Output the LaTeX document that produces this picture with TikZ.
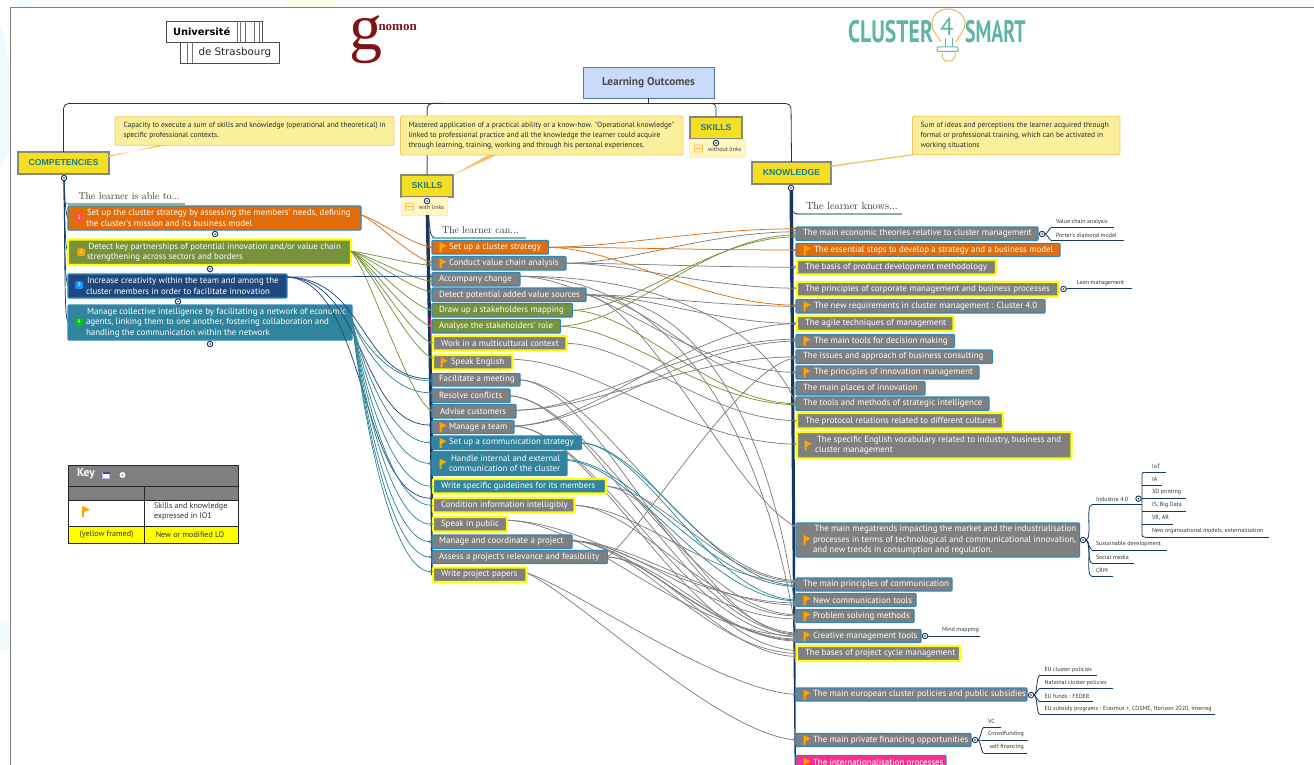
\documentclass[tikz,border=0pt]{standalone}
\usepackage{fontspec}
\usepackage{graphicx}
\usetikzlibrary{arrows.meta,calc}
\pgfdeclarelayer{bg}
\pgfsetlayers{bg,main}
\newfontfamily\ptf{PT Sans}
\newfontfamily\lsf{Liberation Sans}
\newfontfamily\lsr{Liberation Serif}
\newfontfamily\uds{DejaVu Sans}
\definecolor{gbox}{HTML}{7F7F7F}
\definecolor{bbrd}{HTML}{2E88BE}
\definecolor{yel}{HTML}{FFFF00}
\definecolor{oran}{HTML}{E36C0A}
\definecolor{ogrn}{HTML}{76923C}
\definecolor{navy}{HTML}{1F497D}
\definecolor{teal2}{HTML}{31849B}
\definecolor{trunk}{HTML}{17375E}
\definecolor{pinkb}{HTML}{FF2D8A}
\definecolor{flagc}{HTML}{FFA500}
\definecolor{headf}{HTML}{F5DF22}
\definecolor{headb}{HTML}{8C8878}
\definecolor{headt}{HTML}{1A7A8A}
\definecolor{callf}{HTML}{FAF09B}
\definecolor{callb}{HTML}{F5C35F}
\definecolor{notef}{HTML}{FFF6C0}
\definecolor{under}{HTML}{7FB5B0}
\definecolor{logot}{HTML}{5FB5A3}
\definecolor{logoy}{HTML}{E8B95A}
\definecolor{gnom}{HTML}{7E1416}
\definecolor{rootf}{HTML}{C9DAFB}
\definecolor{rootb}{HTML}{5577AA}
\tikzset{
 plain/.style={inner sep=0pt,outer sep=0pt},
 boxs/.style={plain,rectangle,rounded corners=0.8pt,draw=bbrd,line width=1.1pt,fill=gbox},
 ybord/.style={draw=yel,line width=2.2pt,rounded corners=1pt},
 txt/.style={plain,anchor=west,align=left,text=white,font=\ptf\fontsize{8.9}{10.4}\selectfont},
 head/.style={plain,rectangle,fill=headf,draw=headb,line width=2.2pt,text=headt,font=\lsf\bfseries\fontsize{8.7}{10}\selectfont},
 call/.style={plain,rectangle,rounded corners=1.5pt,fill=callf,draw=callb,line width=.8pt},
 calt/.style={plain,anchor=west,align=left,text=black!85,font=\ptf\fontsize{7.5}{9.8}\selectfont},
 note/.style={plain,rectangle,fill=notef,draw=notef!80!callb,line width=.5pt},
 ring/.style={plain,circle,minimum size=5.5pt,draw=trunk,line width=.9pt,fill=white},
 markb/.style={plain,rectangle,rounded corners=1pt,minimum size=7.5pt,text=white,font=\ptf\fontsize{5.5}{6}\selectfont},
 lk/.style={line width=.75pt,-{Stealth[length=3pt,width=3pt]}},
 lg/.style={lk,color=gbox},
 lo/.style={lk,color=oran},
 lv/.style={lk,color=ogrn},
 ln/.style={lk,color=navy},
 lt/.style={lk,color=teal2},
 sub/.style={plain,anchor=west,text=black!80,font=\ptf\fontsize{6}{7}\selectfont},
 subl/.style={line width=.8pt,color=trunk},
 serif/.style={plain,anchor=west,text=black!80,font=\rmfamily\fontsize{9.9}{12}\selectfont},
 keyt/.style={plain,text=black!80,align=left,font=\ptf\fontsize{8.1}{10.4}\selectfont},
}
\newcommand{\bx}[8]{% name x1 y1 x2 y2 style pad text
 \pgfmathsetmacro\cxx{(#2+#4)/2}\pgfmathsetmacro\cyy{(#3+#5)/2}%
 \pgfmathsetmacro\ww{#4-#2}\pgfmathsetmacro\hh{#5-#3}%
 \node[boxs,#6,minimum width=\ww pt,minimum height=\hh pt] (#1) at (\cxx,\cyy) {};
 \node[txt] (#1t) at ([xshift=#7 pt]#1.west) {#8};}
\newcommand{\flg}[1]{% flag near the west side of node #1
 \fill[flagc] ([xshift=7.5pt,yshift=5pt]#1.west) -- ++(7pt,-3.5pt) -- ++(-5pt,-2.8pt) -- ++(0,-3.8pt) -- ++(-2pt,0) -- cycle;}
% generic link: style, src, src offset, dst, dst offset, c1x, c1y, c2x, c2y (fractions)
\newcommand{\lnx}[9]{\draw[#1] let \p1=([yshift={-1pt*(#3)}]#2.east), \p2=([yshift={-1pt*(#5)}]#4.west) in (\p1) .. controls ({\x1+#6*(\x2-\x1)},{\y1+#7*(\y2-\y1)}) and ({\x1+#8*(\x2-\x1)},{\y1+#9*(\y2-\y1)}) .. (\p2);}
\newcommand{\lnk}[5]{\lnx{#1}{#2}{#3}{#4}{#5}{.3}{.03}{.6}{.97}}
\newcommand{\lnc}[5]{\lnx{#1}{#2}{#3}{#4}{#5}{.1}{.3}{.45}{1}}
\newcommand{\lnv}[5]{\lnx{#1}{#2}{#3}{#4}{#5}{.2}{.1}{.7}{.9}}
\newcommand{\lns}[5]{\lnx{#1}{#2}{#3}{#4}{#5}{.55}{.02}{.5}{1}}
\newcommand{\lnl}[5]{\lnx{#1}{#2}{#3}{#4}{#5}{.6}{0}{.9}{.5}}
\newcommand{\lnm}[5]{\lnx{#1}{#2}{#3}{#4}{#5}{.3}{.05}{.7}{.85}}
\newcommand{\lnr}[5]{\lnx{#1}{#2}{#3}{#4}{#5}{.2}{.15}{.7}{.95}}
\newcommand{\sn}[6]{% name text-x text-y text line-x1 line-x2 (line 5.8 under text)
 \node[sub] (#1) at (#2,#3) {#4};
 \coordinate (#1a) at (#5,#3+5.8); \coordinate (#1b) at (#6,#3+5.8);
 \draw[subl] (#1a) -- (#1b);}
\begin{document}
\begin{tikzpicture}[x=1pt,y=-1pt]
\useasboundingbox (0,0) rectangle (1314,765);
\clip (0,0) rectangle (1314,765);
% faint background outside frame
\fill[cyan!6] (0,25) .. controls (6,40) and (10,60) .. (10,90) -- (10,150) -- (0,170) -- cycle;
\fill[cyan!5] (18,0) rectangle (32,7);
\fill[yellow!9] (285,0) rectangle (338,7);
\fill[cyan!5] (0,620) rectangle (10,650);
\draw[gbox,line width=1.2pt] (10.5,765) -- (10.5,7.5) -- (1314,7.5);

% --- logos
\node[plain,draw=black!70,line width=.5pt,minimum width=96pt,minimum height=21pt] (ulogo1) at (214.5,31.5) {};
\node[plain,anchor=west,text=black,font=\uds\bfseries\fontsize{9.9}{10}\selectfont] (ulogo1t) at (173,31.5) {Université};
\node[plain,draw=black!70,line width=.5pt,minimum width=99pt,minimum height=21pt] (ulogo2) at (230,52.5) {};
\node[plain,anchor=west,text=black!85,font=\uds\fontsize{10.3}{11}\selectfont] (ulogo2t) at (198.5,52.5) {de Strasbourg};
\foreach \xx in {237,240.5,245,254,259} \draw[black!55,line width=.5pt] (\xx,21) -- (\xx,42);
\foreach \xx in {187,192} \draw[black!55,line width=.5pt] (\xx,42) -- (\xx,63);
\node[plain,anchor=center,text=gnom,font=\lsr\fontsize{66}{66}\selectfont] (glogo) at (366,39.5) {g};
\node[plain,anchor=west,text=gnom,font=\lsr\bfseries\fontsize{13}{14}\selectfont] (glogo2) at (378.5,28) {nomon};
\node[plain,anchor=west,text=logot,font=\ptf\bfseries\fontsize{31}{31}\selectfont] (clogo) at (848,32) {\scalebox{.7}[1]{CLUSTER}};
\node[plain,anchor=west,text=logot,font=\ptf\bfseries\fontsize{31}{31}\selectfont] (slogo) at (965,32) {\scalebox{.64}[1]{SMART}};
\draw[logoy,line width=1pt] (941,42) .. controls (936,34) and (932,30) .. (932,24) .. controls (932,14) and (940,9) .. (948,9) .. controls (956,9) and (965,14) .. (965,24) .. controls (965,30) and (960,34) .. (956,42);
\draw[logoy,line width=1pt] (942,53) -- (942,57) -- (945,61) -- (952,61) -- (955,57) -- (955,53);
\draw[logot,line width=1pt,rounded corners=1pt] (937,47) rectangle (958,51.5);
\draw[logot,line width=.9pt] (945,38) -- (945,47) (952,38) -- (952,47);
\node[plain,text=logot,font=\ptf\fontsize{25}{25}\selectfont] (flogo) at (947,27) {4};

% --- heads
\node[plain,rectangle,fill=rootf,draw=rootb,line width=1pt,minimum width=131pt,minimum height=31pt,text=black!70,font=\ptf\bfseries\fontsize{11.3}{13}\selectfont] (root) at (648.5,83) {Learning Outcomes};
\node[head,minimum width=91pt,minimum height=22pt] (hc) at (63.5,163) {\raisebox{-.8pt}{COMPETENCIES}};
\node[head,minimum width=52pt,minimum height=22pt] (hs) at (427,186) {SKILLS};
\node[head,minimum width=52pt,minimum height=22pt] (hw) at (716,128) {SKILLS};
\node[head,minimum width=79pt,minimum height=22pt] (hk) at (791.5,173) {KNOWLEDGE};
\coordinate (busl) at (648.5,103.5);
\draw[trunk,line width=.7pt] (root.south) -- (busl);
\draw[trunk!65!gray,line width=1pt,rounded corners=5pt] (hs.north) -- (427,103.5) -- (445,103.5);
\draw[trunk,line width=.8pt,rounded corners=5pt] (hc.north) -- (63.5,103.5) -- (791,103.5) -- (hk.north);
\draw[trunk,line width=.7pt,rounded corners=4pt] (660,103.5) -- (716,103.5) -- (hw.north);

% --- callouts
\fill[callb] (109,155.5) -- (172,144.5) -- (162,144.5) -- (109,157) -- cycle;
\fill[callb] (453,175) -- (497,155) -- (488,155) -- cycle;
\fill[callb] (831,165.5) -- (920,153) -- (915,155) -- (831,167) -- cycle;
\node[call,minimum width=279pt,minimum height=28.5pt] (c1) at (254.5,131) {};
\node[calt] (c1t) at (123.5,130.5) {Capacity to execute a sum of skills and knowledge (operational and theoretical) in\\specific professional contexts.};
\node[call,minimum width=282.5pt,minimum height=39pt] (c2) at (541.7,135.5) {};
\node[calt] (c2t) at (408.5,135.5) {Mastered application of a practical ability or a know-how. "Operational knowledge"\\linked to professional practice and all the knowledge the learner could acquire\\through learning, training, working and through his personal experiences.};
\node[call,minimum width=207.5pt,minimum height=38.5pt] (c3) at (1016.2,135.5) {};
\node[calt] (c3t) at (920.5,135.5) {Sum of ideas and perceptions the learner acquired through\\formal or professional training, which can be activated in\\working situations};

% --- notes
\node[note,minimum width=46pt,minimum height=18pt] (n1) at (424,206) {};
\node[plain,text=black!75,font=\ptf\fontsize{6}{7}\selectfont,anchor=west] (n1t) at (419,207) {with links};
\node[plain,draw=flagc!70,line width=.8pt,rounded corners=1pt,minimum width=8pt,minimum height=7pt,fill=notef] (n1i) at (409.5,206.5) {};
\draw[flagc!70,line width=.7pt] (n1i.west) -- (n1i.east);
\node[note,minimum width=56pt,minimum height=18pt] (n2) at (717,148) {};
\node[plain,text=black!75,font=\ptf\fontsize{6}{7}\selectfont,anchor=west] (n2t) at (708,149) {without links};
\node[plain,draw=flagc!70,line width=.8pt,rounded corners=1pt,minimum width=8pt,minimum height=7pt,fill=notef] (n2i) at (698.5,148.5) {};
\draw[flagc!70,line width=.7pt] (n2i.west) -- (n2i.east);

% --- trunks
\fill[trunk] (425.7,215) -- (429.2,215) -- (433,430) -- (432.5,575) -- (431.2,575) -- (430,430) -- cycle;
\draw[pinkb,line width=.9pt] (430.6,318) -- (431.4,352);
\begin{pgfonlayer}{bg}
\fill[trunk] (789.5,190) -- (793,190) -- (795,500) -- (795.8,765) -- (794.6,765) -- (792,500) -- cycle;
\end{pgfonlayer}
\coordinate (cr) at (64,180);
\foreach \yy in {218,252,285,322} \draw[trunk,line width=.7pt] (cr) .. controls (65,{\yy-25}) and (65,{\yy-4}) .. (68,\yy);
\draw[trunk,line width=.7pt,rounded corners=3pt] (428,215) -- (431,236) -- (436,238);

% --- labels with underline
\node[serif] (lc) at (78.5,196) {The learner is able to...};
\draw[under,line width=1.2pt] (68,204) -- (185,204);
\draw[gray,line width=.6pt] (64,183) to[out=270,in=180,looseness=1] (69,204);
\node[serif] (ls) at (442,230) {The learner can...};
\draw[under,line width=1.2pt] (432,238) -- (526,238);
\node[serif] (lk) at (806,206) {\fontsize{10.3}{12}\selectfont The learner knows...};
\draw[under,line width=1.2pt] (796,214) -- (902,214);
\draw[trunk,line width=.7pt] (791,190) to[out=270,in=180,looseness=.8] (797,214);

% --- competencies
\bx{a}{68}{206}{361}{230}{fill=oran}{18}{\hspace*{1pt}Set up the cluster strategy by assessing the members' needs, defining\\the cluster's mission and its business model}
\bx{b}{68}{239.5}{351}{265}{fill=ogrn,ybord}{19}{\hspace*{1.5pt}Detect key partnerships of potential innovation and/or value chain\\strengthening across sectors and borders}
\bx{c}{68}{274}{287}{298}{fill=navy}{18}{\hspace*{1pt}Increase creativity within the team and among the\\cluster members in order to facilitate innovation}
\bx{d}{68}{305}{352}{340}{fill=teal2}{18}{\hspace*{1pt}Manage collective intelligence by facilitating a network of economic\\agents, linking them to one another, fostering collaboration and\\handling the communication within the network}
\node[markb,fill=red!70!white] (m1) at (79,218) {1};
\node[markb,fill=flagc] (m2) at (81,252) {2};
\node[markb,fill=blue!45!cyan!90!white] (m3) at (79,285) {3};
\node[markb,fill=green!75!black!90!cyan] (m4) at (79,322) {4};

% --- skills
\bx{s1}{432}{240.5}{548.5}{254}{fill=oran}{17}{Set up a cluster strategy}
\bx{s2}{432}{256.5}{566}{270}{}{17}{Conduct value chain analysis}
\bx{s3}{432}{272.5}{520}{286}{}{7}{Accompany change}
\bx{s4}{432}{288}{586}{301.5}{}{7}{Detect potential added value sources}
\bx{s5}{432}{303.5}{572.5}{317}{fill=ogrn}{7}{Draw up a stakeholders mapping}
\bx{s6}{432}{319.5}{560.5}{333}{fill=ogrn}{7}{Analyse the stakeholders' role}
\bx{s7}{433}{336}{566.5}{350.5}{ybord}{8}{Work in a multicultural context}
\bx{s8}{433}{355}{512.5}{369.5}{ybord}{18}{Speak English}
\bx{s9}{432}{373.5}{520}{386}{}{7}{Facilitate a meeting}
\bx{s10}{432}{389}{510}{402.5}{}{7}{Resolve conflicts}
\bx{s11}{432}{404.5}{516}{418}{}{8}{Advise customers}
\bx{s12}{432}{420.5}{514}{433.5}{}{17}{Manage a team}
\bx{s13}{432}{436}{581.5}{449.5}{fill=teal2}{17}{Set up a communication strategy}
\bx{s14}{432}{451.5}{567}{475.5}{fill=teal2}{17}{\hspace*{2pt}Handle internal and external\\communication of the cluster}
\bx{s15}{433}{479}{606}{493.5}{fill=teal2,ybord}{8}{Write specific guidelines  for its members}
\bx{s16}{433}{498}{574.5}{512.5}{ybord}{8}{Condition information intelligibly}
\bx{s17}{433}{517}{507}{531.5}{ybord}{8}{Speak in public}
\bx{s18}{432}{535}{572}{548.5}{}{7}{Manage and coordinate a project}
\bx{s19}{432}{550.5}{607.5}{563.5}{}{7}{Assess a project's relevance and feasibility}
\bx{s20}{433}{567.5}{526.5}{582}{ybord}{8}{Write project papers}
\foreach \n in {s1,s2,s8,s12,s13,s14} {\flg{\n}}

% --- knowledge
\bx{k1}{796}{227}{1038}{240.5}{}{7}{The main economic theories relative to cluster management}
\bx{k2}{796}{243.5}{1060}{256.5}{fill=oran}{18}{The essential steps to develop a strategy and a business model}
\bx{k3}{797}{260}{996}{274.5}{ybord}{8}{The basis of product development methodology}
\bx{k4}{797}{282}{1058.5}{296.5}{ybord}{8}{The principles of corporate management and business processes}
\bx{k5}{796}{299.5}{1045}{313}{}{18}{The new requirements in cluster management : Cluster 4.0}
\bx{k6}{797}{316}{953.5}{331}{ybord}{8}{The agile techniques of management}
\bx{k7}{796}{334.5}{954.5}{347.5}{}{18}{The main tools for decision making}
\bx{k8}{796}{350}{992.5}{363.5}{}{7}{The issues and approach of business consulting}
\bx{k9}{796}{366}{979}{379}{}{18}{The principles of innovation management}
\bx{k10}{796}{381.5}{925}{395}{}{7}{The main places of innovation}
\bx{k11}{796}{397}{989}{410.5}{}{7}{The tools and methods of strategic intelligence}
\bx{k12}{797}{413}{1003}{428.5}{ybord}{8}{The protocol relations related to different cultures}
\bx{k13}{797}{432}{1071.5}{458.5}{ybord}{18}{\hspace*{2pt}The specific English vocabulary related to industry, business and\\cluster management}
\bx{k14}{796}{523}{1079.5}{557}{}{17}{\hspace*{1.5pt}The main megatrends impacting the market and the industrialisation\\processes in terms of technological and communicational innovation,\\and new trends in consumption and regulation.}
\bx{k15}{796}{578}{952}{591}{}{7}{The main principles of communication}
\bx{k16}{796}{593.5}{916}{606.5}{}{17}{New communication tools}
\bx{k17}{796}{609.5}{914}{622.5}{}{17}{Problem solving methods}
\bx{k18}{796}{629.5}{921}{642.5}{}{17}{Creative management tools}
\bx{k19}{797}{646}{960}{661}{ybord}{8}{The bases of project cycle management}
\bx{k20}{796}{688}{1027}{701}{}{17}{The main european cluster policies and public subsidies}
\bx{k21}{796}{733.5}{971}{746.5}{}{17}{The main private financing opportunities}
\bx{k22}{796}{755.5}{946}{770}{fill=pinkb}{17}{The internationalisation processes}
\foreach \n in {k2,k5,k7,k9,k13,k14,k16,k17,k18,k20,k21,k22} {\flg{\n}}

% --- competency -> skill links
\lnv{lo}{a}{-3}{s1}{0}
\lnv{lo}{a}{-3}{s2}{-1}
\lnv{lv}{b}{-1}{s2}{2}
\lnv{lv}{b}{-1}{s3}{2}
\lnv{lv}{b}{-1}{s4}{-3}
\lnv{lv}{b}{-1}{s5}{0}
\lnv{lv}{b}{-1}{s6}{0}
\lnv{lv}{b}{-1}{s7}{0}
\lnv{lv}{b}{-1}{s8}{-4}
\lnv{lv}{b}{-1}{s11}{0}
\lnv{ln}{c}{-9}{s3}{-3}
\lns{ln}{c}{-9}{s9}{-1}
\lns{ln}{c}{-9}{s12}{-2}
\lns{ln}{c}{-9}{s16}{-7}
\lnc{lt}{d}{-3}{s9}{1}
\lnc{lt}{d}{-3}{s10}{-3}
\lnc{lt}{d}{-3}{s13}{0}
\lnc{lt}{d}{-3}{s14}{0}
\lnc{lt}{d}{-3}{s15}{0}
\lnc{lt}{d}{-3}{s16}{0}
\lnc{lt}{d}{-3}{s17}{0}
\lnc{lt}{d}{-3}{s18}{0}
\lnc{lt}{d}{-3}{s19}{0}
\lnc{lt}{d}{-3}{s20}{-3}

% --- skill -> knowledge links (under the boxes)
\begin{pgfonlayer}{bg}
\lnk{lo}{s1}{0}{k1}{-5}
\lnk{lo}{s1}{0}{k2}{0}
\lnk{lo}{s1}{0}{k5}{-1}
\lnk{lg}{s2}{0}{k1}{-2}
\lnk{lg}{s2}{0}{k3}{0}
\lnk{lg}{s2}{0}{k4}{-1}
\lnk{lg}{s3}{-3}{k9}{0}
\lnl{lg}{s3}{-3}{k11}{0}
\lnl{lg}{s3}{-3}{k18}{-3}
\lnk{lg}{s4}{0}{k5}{0}
\lnk{lg}{s4}{0}{k6}{0}
\lnk{lg}{s4}{0}{k10}{0}
\lnl{lg}{s4}{0}{k17}{-2}
\lnm{lg}{s4}{0}{k14}{-13}
\lnk{lv}{s5}{0}{k1}{3}
\lnk{lv}{s5}{0}{k11}{0}
\lnk{lv}{s6}{0}{k1}{1}
\lnk{lv}{s6}{0}{k11}{1}
\lnk{lg}{s7}{0}{k12}{0}
\lnk{lg}{s8}{-3}{k13}{-1}
\lnk{lg}{s9}{0}{k15}{-4}
\lnk{lg}{s9}{0}{k18}{-3}
\lnk{lg}{s10}{0}{k17}{-1}
\lnk{lg}{s10}{0}{k18}{-2}
\lnk{lg}{s11}{-1}{k7}{-2}
\lnk{lg}{s11}{-1}{k8}{0}
\lnk{lg}{s12}{-1}{k6}{0}
\lnk{lg}{s12}{-1}{k7}{0}
\lnk{lg}{s12}{-1}{k18}{1}
\lnk{lg}{s12}{-1}{k19}{-3}
\lnk{lt}{s13}{0}{k15}{1}
\lnk{lt}{s13}{0}{k16}{0}
\lnk{lt}{s14}{-4}{k15}{2}
\lnk{lt}{s14}{-3}{k16}{1}
\lnk{lg}{s15}{0}{k15}{-3}
\lnk{lg}{s15}{0}{k18}{-1}
\lnk{lg}{s16}{0}{k15}{-2}
\lnk{lg}{s16}{0}{k17}{0}
\lnk{lg}{s17}{-4}{k16}{3}
\lnk{lg}{s17}{-4}{k18}{0}
\lnk{lg}{s18}{-1}{k16}{5}
\lnk{lg}{s18}{-1}{k17}{3}
\lnk{lg}{s18}{-1}{k18}{3}
\lnk{lg}{s18}{-1}{k18}{4}
\lnk{lg}{s18}{-1}{k19}{0}
\lnr{lg}{s19}{0}{k8}{1}
\lnk{lg}{s19}{0}{k18}{5}
\lnk{lg}{s19}{0}{k19}{3}
\lnr{lg}{s20}{-2}{k20}{0}
\lnr{lg}{s20}{-2}{k21}{0}
\end{pgfonlayer}

% --- rings
\foreach \nm/\px/\py in {rc/64/178,rs/427/201,rw/716/143,rk/791/188,ra/215/234,rb/210/269,rcc/178/301.5,rd/210/344,r1/1042/234,r4/1063.5/289,r14/1083/540,ri/1138.5/498.7,r18/925/636,r20/1031/695,r21/975/740} {
 \node[ring] (\nm) at (\px,\py) {};
 \fill[trunk] (\nm.center) circle (.9pt);}

% --- detail sub-topics
\sn{t1}{1056}{221.5}{Value chain analysis}{1052}{1114}
\sn{t2}{1056}{235}{Porter's diamond model}{1052}{1123.5}
\draw[subl] (r1.east) to[out=0,in=180,looseness=.8] (t1a);
\draw[subl] (r1.east) to[out=0,in=180,looseness=.8] (t2a);
\sn{t3}{1077}{283}{Lean management}{1067}{1131.5}
\draw[subl] (r4.east) -- (t3a);
\sn{t4}{1096}{499}{Industrie 4.0}{1092}{1141.5}
\sn{t5}{1096}{544.3}{Sustainable development}{1092}{1167}
\sn{t6}{1096}{557.5}{Social media}{1092}{1134}
\sn{t7}{1096}{570.7}{CRM}{1092}{1113}
\foreach \t in {t4,t5,t6,t7} {\draw[subl] (r14.east) to[out=0,in=180,looseness=.5] (\t a);}
\sn{u1}{1152}{466.5}{IoT}{1145}{1165.5}
\sn{u2}{1152}{479.3}{IA}{1145}{1162}
\sn{u3}{1152}{492.3}{3D printing}{1145}{1186}
\sn{u4}{1152}{505.3}{IS, Big Data}{1145}{1186}
\sn{u5}{1152}{518.3}{VR, AR}{1145}{1173}
\sn{u6}{1152}{531.2}{New organisational models, externalisation}{1145}{1269}
\coordinate (uvb) at (1142,500);
\draw[subl,rounded corners=2pt] (uvb |- t4b) -- (uvb |- u1a) -- (u1a);
\draw[subl,rounded corners=2pt] (uvb |- t4b) -- (uvb |- u6a) -- (u6a);
\foreach \t in {u2,u3,u4,u5} {\draw[subl] (uvb |- \t a) -- (\t a);}
\sn{v1}{942}{630.5}{Mind mapping}{929}{980}
\draw[subl] (r18.east) -- (v1a);
\sn{e1}{1044.5}{669.5}{EU cluster policies}{1040}{1097}
\sn{e2}{1044.5}{682.5}{National cluster policies}{1040}{1112.5}
\sn{e3}{1044.5}{696}{EU funds : FEDER}{1040}{1093}
\sn{e4}{1044.5}{708.5}{EU subsidy programs : Erasmus +, COSME, Horizon 2020, Interreg}{1040}{1215}
\foreach \t in {e1,e2,e3,e4} {\draw[subl] (r20.east) to[out=0,in=180,looseness=.5] (\t a);}
\sn{p1}{988}{721.5}{VC}{984}{1001}
\sn{p2}{988}{734.2}{Crowdfunding}{984}{1028}
\sn{p3}{989.5}{747.5}{self financing}{984}{1027}
\foreach \t in {p1,p2,p3} {\draw[subl] (r21.east) to[out=0,in=180,looseness=.5] (\t a);}

% --- key table
\fill[gbox] (68.5,465) rectangle (238.5,500);
\fill[white] (68.5,500) rectangle (238.5,526);
\fill[yel] (68.5,526) rectangle (238.5,543);
\draw[black!85,line width=.8pt] (68.5,465) rectangle (238.5,543);
\draw[black!85,line width=.8pt] (68.5,486) -- (238.5,486);
\draw[black!85,line width=.8pt] (68.5,500) -- (238.5,500);
\draw[black!85,line width=.8pt] (68.5,526) -- (238.5,526);
\draw[black!85,line width=.8pt] (144.3,486) -- (144.3,543);
\node[plain,anchor=west,text=white,font=\ptf\bfseries\fontsize{11.5}{12}\selectfont] (kt) at (77,474) {Key};
\node[plain,draw=white!70!blue,fill=white,line width=.5pt,minimum width=7pt,minimum height=6pt] (ki1) at (106,475) {};
\fill[blue!50!gray] (ki1.north west) rectangle ([yshift=-2pt]ki1.north east);
\node[plain,circle,fill=white,minimum size=6pt] (ki2) at (122.5,475) {};
\fill[gbox] (ki2.center) circle (1pt);
\fill[flagc] (82,506) -- (90,509.5) -- (84,512) -- (84,517) -- (82,517) -- cycle;
\node[keyt,anchor=west] (k1a) at (154,511.5) {Skills and knowledge\\expressed in IO1};
\node[keyt,anchor=center] (k2a) at (106.5,534.5) {(yellow framed)};
\node[keyt,anchor=center] (k2b) at (190,535) {New or modified LO};
\end{tikzpicture}
\end{document}
